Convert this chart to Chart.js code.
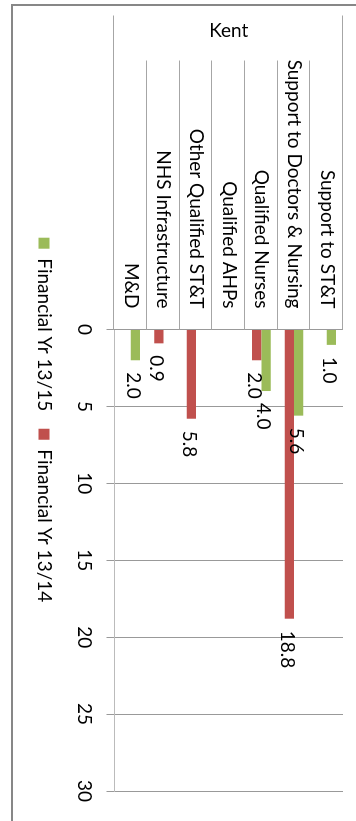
<!DOCTYPE html>
<html>
<head>
<meta charset="utf-8">
<script src="https://cdn.jsdelivr.net/npm/chart.js@4.4.1/dist/chart.umd.min.js"></script>
<style>
  html, body { margin: 0; padding: 0; background: #fff; width: 356px; height: 821px; overflow: hidden; }
  #frame { position: absolute; left: 11px; top: 4px; width: 400px; height: 900px;
           border-left: 2px solid #878787; border-top: 2px solid #878787; }
  /* the chart is laid out landscape and turned a quarter clockwise onto the page */
  #turn { position: absolute; left: 0; top: 0; width: 821px; height: 356px;
          transform-origin: 0 0; transform: translate(356px, 0) rotate(90deg); }
  canvas { display: block; }
</style>
</head>
<body>
<div id="frame"></div>
<div id="turn"><canvas id="c" width="821" height="356"></canvas></div>
<script>
const groupLabel = 'Kent';
const categories = [
  'Support to ST&T',
  'Support to Doctors & Nursing',
  'Qualified Nurses',
  'Qualified AHPs',
  'Other Qualified ST&T',
  'NHS Infrastructure',
  'M&D'
];
const seriesNames = ['Financial Yr 13/15', 'Financial Yr 13/14'];
const fy1315 = [1.0, 5.6, 4.0, null, null, null, 2.0];
const fy1314 = [null, 18.8, 2.0, null, 5.8, 0.9, null];
const valueTicks = [0, 5, 10, 15, 20, 25, 30];

const FONT = 'Lato, "Open Sans", sans-serif';
const FONT_SIZE = 19;

// Category separators, the outer group bracket and its label
const groupBracket = {
  id: 'groupBracket',
  afterDraw(chart) {
    const { ctx, chartArea, scales: { y } } = chart;
    const n = categories.length;
    const half = (y.getPixelForValue(1) - y.getPixelForValue(0)) / 2;
    const innerStart = chartArea.left - 269;
    const outerStart = chartArea.left - 314;
    ctx.save();
    ctx.strokeStyle = '#a6a6a6';
    ctx.lineWidth = 1;
    ctx.beginPath();
    for (let i = 1; i < n; i++) {
      const py = Math.round(y.getPixelForValue(i) - half) + 0.5;
      ctx.moveTo(innerStart, py);
      ctx.lineTo(chartArea.left, py);
    }
    [y.getPixelForValue(0) - half, y.getPixelForValue(n - 1) + half].forEach(p => {
      const py = Math.round(p) + 0.5;
      ctx.moveTo(outerStart, py);
      ctx.lineTo(chartArea.left, py);
    });
    ctx.stroke();
    ctx.translate(outerStart + 15, (chartArea.top + chartArea.bottom) / 2);
    ctx.rotate(-Math.PI / 2);
    ctx.font = FONT_SIZE + 'px ' + FONT;
    ctx.fillStyle = '#000';
    ctx.textAlign = 'center';
    ctx.textBaseline = 'middle';
    ctx.fillText(groupLabel, 0, 0);
    ctx.restore();
  }
};

// Value labels just past the end of each bar
const barValues = {
  id: 'barValues',
  afterDatasetsDraw(chart) {
    const { ctx } = chart;
    ctx.save();
    ctx.font = FONT_SIZE + 'px ' + FONT;
    ctx.fillStyle = '#000';
    ctx.textAlign = 'left';
    ctx.textBaseline = 'middle';
    chart.data.datasets.forEach((ds, di) => {
      chart.getDatasetMeta(di).data.forEach((bar, i) => {
        const v = ds.data[i];
        if (v == null) return;
        ctx.fillText(v.toFixed(1), bar.x + 12, bar.y + 2.5);
      });
    });
    ctx.restore();
  }
};

new Chart(document.getElementById('c'), {
  type: 'bar',
  data: {
    labels: categories,
    datasets: [
      { label: seriesNames[0], data: fy1315, backgroundColor: '#9bbb59', borderWidth: 0,
        categoryPercentage: 0.57, barPercentage: 1 },
      { label: seriesNames[1], data: fy1314, backgroundColor: '#c0504d', borderWidth: 0,
        categoryPercentage: 0.57, barPercentage: 1 }
    ]
  },
  options: {
    indexAxis: 'y',
    responsive: false,
    animation: false,
    devicePixelRatio: 1,
    layout: { padding: { left: 49, right: 30, top: 13, bottom: 24.5 } },
    plugins: {
      legend: {
        position: 'bottom',
        labels: { boxWidth: 11, boxHeight: 11, padding: 17.5, color: '#000',
                  font: { family: FONT, size: FONT_SIZE } }
      },
      tooltip: { enabled: false }
    },
    scales: {
      x: {
        min: valueTicks[0],
        max: valueTicks[valueTicks.length - 1],
        afterBuildTicks(scale) { scale.ticks = valueTicks.map(v => ({ value: v })); },
        ticks: { color: '#000', padding: 11, maxRotation: 0, font: { family: FONT, size: FONT_SIZE } },
        grid: { color: '#999', tickLength: 8 },
        border: { color: '#bbb' },
        afterFit(scale) {
          scale.height = 43.5;
          scale.paddingLeft = 0;
          scale.paddingRight = 0;
        }
      },
      y: {
        ticks: { color: '#000', padding: 21, font: { family: FONT, size: FONT_SIZE } },
        grid: { display: false, drawTicks: false },
        border: { color: '#999' },
        afterFit(scale) {
          scale.width = 280.5;
          scale.paddingTop = 0;
          scale.paddingBottom = 0;
        }
      }
    }
  },
  plugins: [groupBracket, barValues]
});
</script>
</body>
</html>
